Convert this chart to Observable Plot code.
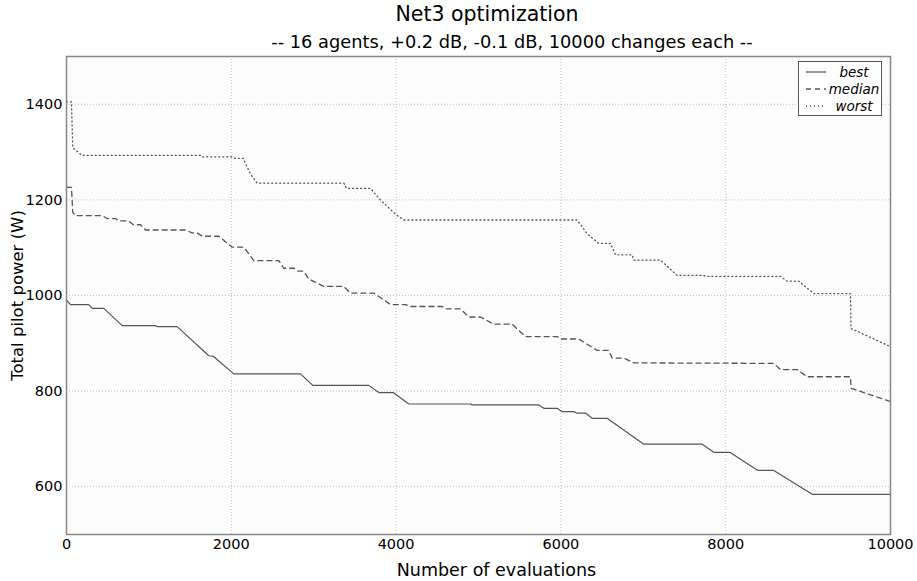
<!DOCTYPE html>
<html>
<head>
<meta charset="utf-8">
<script src="https://cdn.jsdelivr.net/npm/d3@7"></script>
<script src="https://cdn.jsdelivr.net/npm/@observablehq/plot@0.6"></script>
<style>
  html, body { margin: 0; padding: 0; background: #fff; }
  #wrap { position: relative; width: 917px; height: 581px; font-family: "DejaVu Sans", sans-serif; color: #000; }
  #title { position: absolute; left: 0; width: 974px; top: 1px; text-align: center; font-size: 20.5px; line-height: 26px; }
  #subtitle { position: absolute; left: 0; width: 1024px; top: 31px; text-align: center; font-size: 17.8px; line-height: 22px; }
  #chart { position: absolute; left: 0; top: 52px; }
  #legend { position: absolute; left: 798px; top: 61px; width: 84px; height: 55px; border: 1px solid #555; background: #fff; box-sizing: border-box; }
  .lrow { position: absolute; left: 0; width: 84px; height: 16px; font-style: italic; font-size: 13.5px; }
  .lrow svg { position: absolute; left: 7px; top: 3px; }
  .lrow span { position: absolute; left: 29px; width: 52px; text-align: center; top: 0; line-height: 16px; }
</style>
</head>
<body>
<div id="wrap">
  <div id="title">Net3 optimization</div>
  <div id="subtitle">-- 16 agents, +0.2 dB, -0.1 dB, 10000 changes each --</div>
  <div id="chart"></div>
  <div id="legend"></div>
</div>
<script>
// Series values (x = number of evaluations, y = total pilot power in W)
const bestX   = [0, 50, 270, 312, 453, 676, 1080, 1100, 1343, 1727, 1780, 2031, 2840, 2989, 3669, 3790, 3965, 4154, 4903, 4920, 5732, 5793, 5955, 6016, 6157, 6190, 6298, 6379, 6561, 7006, 7715, 7856, 8050, 8390, 8584, 9050, 10000];
const bestY   = [990, 981, 981, 973, 973, 937, 937, 935, 935, 874, 873, 836, 836, 812, 812, 797, 797, 773, 773, 771, 771, 764, 764, 757, 757, 754, 754, 743, 743, 689, 689, 672, 672, 634, 634, 584, 584];

const medianX = [0, 60, 76, 109, 433, 494, 595, 631, 752, 813, 898, 959, 1444, 1525, 1586, 1647, 1849, 2010, 2152, 2273, 2577, 2637, 2759, 2800, 2880, 2937, 3123, 3365, 3447, 3730, 3932, 4114, 4175, 4559, 4600, 4782, 4883, 5024, 5186, 5409, 5570, 5955, 6000, 6217, 6319, 6440, 6581, 6622, 6764, 6885, 8584, 8665, 8867, 8989, 9515, 9520, 10000];
const medianY = [1226, 1226, 1174, 1167, 1167, 1161, 1161, 1156, 1156, 1148, 1148, 1137, 1137, 1131, 1131, 1124, 1124, 1101, 1101, 1073, 1073, 1057, 1057, 1051, 1051, 1035, 1019, 1019, 1005, 1005, 981, 981, 977, 977, 972, 972, 955, 955, 940, 940, 914, 914, 909, 909, 898, 885, 885, 869, 869, 859, 858, 845, 845, 830, 830, 806, 778];

const worstX  = [0, 60, 76, 190, 1626, 1650, 2010, 2040, 2143, 2233, 2314, 3365, 3400, 3689, 3810, 3993, 4094, 6197, 6319, 6460, 6602, 6663, 6865, 6885, 7209, 7411, 7734, 7760, 8665, 8746, 8887, 9069, 9515, 9520, 10000];
const worstY  = [1405, 1405, 1309, 1293, 1293, 1290, 1290, 1287, 1287, 1254, 1235, 1235, 1224, 1224, 1200, 1170, 1158, 1158, 1129, 1109, 1109, 1085, 1085, 1074, 1074, 1042, 1042, 1040, 1040, 1030, 1030, 1004, 1004, 931, 893];

const seriesNames = ["best", "median", "worst"];
const xTicks = [0, 2000, 4000, 6000, 8000, 10000];
const yTicks = [600, 800, 1000, 1200, 1400];

const dashes = {best: null, median: "5,4", worst: "1,3"};
const widths = {best: 1.2, median: 1.3, worst: 1.3};

const toRows = (xs, ys) => xs.map((x, i) => ({x, y: ys[i]}));
const series = {
  best: toRows(bestX, bestY),
  median: toRows(medianX, medianY),
  worst: toRows(worstX, worstY)
};

const lineColor = "#555";
const tickFont = 14.5;

const chart = Plot.plot({
  width: 917,
  height: 529,
  marginTop: 4,
  marginBottom: 47,
  marginLeft: 66,
  marginRight: 27,
  style: {fontFamily: "DejaVu Sans, sans-serif", fontSize: "14px", background: "transparent", color: "#000"},
  x: {domain: [0, 10000], axis: null},
  y: {domain: [500, 1500], axis: null},
  marks: [
    Plot.frame({fill: "#fcfcfc", stroke: null}),
    Plot.gridX(xTicks, {stroke: "#b0b0b0", strokeOpacity: 1, strokeDasharray: "1,2", strokeWidth: 0.8}),
    Plot.gridY(yTicks, {stroke: "#b0b0b0", strokeOpacity: 1, strokeDasharray: "1,2", strokeWidth: 0.8}),
    ...seriesNames.map(name => Plot.line(series[name], {
      x: "x", y: "y", stroke: lineColor, strokeWidth: widths[name],
      strokeDasharray: dashes[name]
    })),
    Plot.frame({stroke: "#888", strokeWidth: 1.5}),
    Plot.text(xTicks, {x: d => d, frameAnchor: "bottom", lineAnchor: "middle", dy: 10, fontSize: tickFont, fill: "#000", text: d => String(d)}),
    Plot.text(yTicks, {y: d => d, frameAnchor: "left", textAnchor: "end", lineAnchor: "middle", dx: -4, fontSize: tickFont, fill: "#000", text: d => String(d)}),
    Plot.text(["Number of evaluations"], {frameAnchor: "bottom", dy: 36, dx: 18, fontSize: 17.5, lineAnchor: "middle", textAnchor: "middle", fill: "#000"}),
    Plot.text(["Total pilot power (W)"], {frameAnchor: "left", dx: -49, rotate: -90, fontSize: 16.5, lineAnchor: "middle", textAnchor: "middle", fill: "#000"})
  ]
});
document.getElementById("chart").appendChild(chart);

// Legend
const legend = document.getElementById("legend");
seriesNames.forEach((name, i) => {
  const row = document.createElement("div");
  row.className = "lrow";
  row.style.top = (2 + i * 17) + "px";
  const d = dashes[name] ? ` stroke-dasharray="${dashes[name]}"` : "";
  row.innerHTML = `<svg width="20" height="10"><line x1="0" y1="5" x2="20" y2="5" stroke="${lineColor}" stroke-width="${widths[name]}"${d}/></svg><span>${name}</span>`;
  legend.appendChild(row);
});
</script>
</body>
</html>
